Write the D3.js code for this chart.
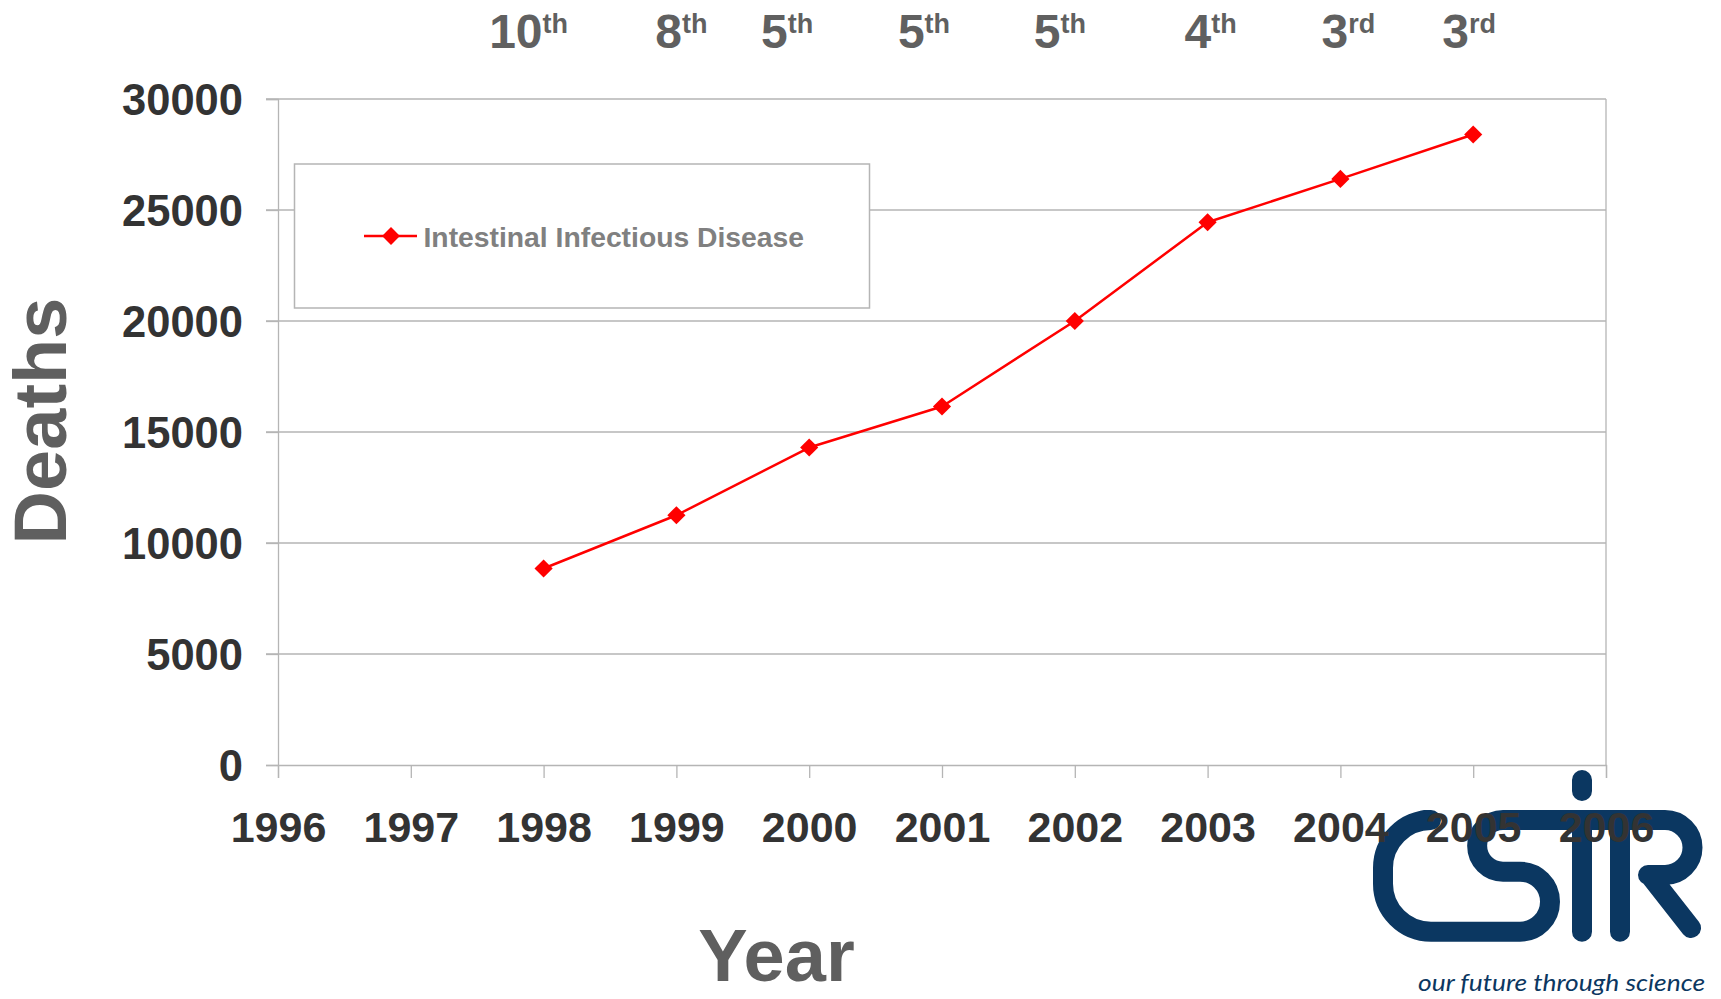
<!DOCTYPE html>
<html>
<head>
<meta charset="utf-8">
<script src="https://cdn.jsdelivr.net/npm/d3@7"></script>
<style>
  html, body { margin: 0; padding: 0; background: #ffffff; }
  svg { display: block; }
</style>
</head>
<body>
<svg id="chart" width="1721" height="999"></svg>
<script>
// Annual deaths from intestinal infectious disease, with the cause's rank per year
const years = [1998, 1999, 2000, 2001, 2002, 2003, 2004, 2005];
const deaths = [8850, 11250, 14300, 16150, 20000, 24450, 26400, 28400];
const rankNumbers = ["10", "8", "5", "5", "5", "4", "3", "3"];
const rankSuffixes = ["th", "th", "th", "th", "th", "th", "rd", "rd"];
const xTickYears = [1996, 1997, 1998, 1999, 2000, 2001, 2002, 2003, 2004, 2005, 2006];
const yTickValues = [0, 5000, 10000, 15000, 20000, 25000, 30000];
const seriesName = "Intestinal Infectious Disease";

// Layout
const W = 1721, H = 999;
const plot = { left: 278, right: 1606, top: 99, bottom: 765 };
const rankNudge = [-15, 5, -22, -18, -15, 3, 8, -4];
const FONT = "'Liberation Sans', Arial, Helvetica, sans-serif";
const GRID = "#b5b5b5";
const RED = "#ff0000";
const NAVY = "#0b3761";

const svg = d3.select("#chart");

const x = d3.scaleLinear().domain([1996, 2006]).range([plot.left, plot.right]);
const y = d3.scaleLinear().domain([0, 30000]).range([plot.bottom, plot.top]);

// Logo (drawn first so the year labels sit on top of it)
const logo = svg.append("g")
  .attr("fill", "none")
  .attr("stroke", NAVY)
  .attr("stroke-width", 20)
  .attr("stroke-linecap", "round")
  .attr("stroke-linejoin", "round");

const p = d3.path();
p.moveTo(1424, 820);
p.arcTo(1383, 820, 1383, 868, 48);
p.arcTo(1383, 931.7, 1431, 931.7, 48);
p.lineTo(1520, 931.7);
p.arc(1520, 901.7, 30, Math.PI / 2, -Math.PI / 2, true);
p.lineTo(1503, 871.7);
p.arc(1503, 845.85, 25.85, Math.PI / 2, 3 * Math.PI / 2, false);
p.lineTo(1665, 820);
p.arc(1665, 847.5, 27.5, -Math.PI / 2, Math.PI / 2, false);
p.lineTo(1648, 875);
p.moveTo(1651, 877);
p.lineTo(1691, 928);
p.moveTo(1582, 820);
p.lineTo(1582, 931.7);
p.moveTo(1620, 820);
p.lineTo(1620, 931.7);
p.moveTo(1582, 780);
p.lineTo(1582, 791);
logo.append("path").attr("d", p.toString());

svg.append("text")
  .attr("x", 1418)
  .attr("y", 991)
  .attr("textLength", 287)
  .attr("lengthAdjust", "spacingAndGlyphs")
  .style("font-family", "Lato, 'Open Sans', sans-serif")
  .style("font-style", "italic")
  .style("font-size", "23px")
  .attr("fill", NAVY)
  .text("our future through science");

// Horizontal gridlines (with the short tick stubs left of the axis)
svg.append("g")
  .selectAll("line")
  .data(yTickValues.filter(v => v > 0))
  .join("line")
  .attr("x1", plot.left - 12)
  .attr("x2", plot.right)
  .attr("y1", d => y(d))
  .attr("y2", d => y(d))
  .attr("stroke", GRID)
  .attr("stroke-width", 1.3);

// Y axis
const yAxis = svg.append("g")
  .attr("transform", `translate(${plot.left},0)`)
  .call(d3.axisLeft(y).tickValues(yTickValues).tickSize(12).tickPadding(23).tickFormat(d3.format("d")));
yAxis.select(".domain").attr("stroke", GRID).attr("stroke-width", 1.3);
yAxis.selectAll(".tick line").attr("stroke", GRID).attr("stroke-width", 1.3);
yAxis.selectAll(".tick text")
  .attr("dy", null)
  .attr("y", 15.5)
  .attr("fill", "#333333")
  .style("font-family", FONT)
  .style("font-weight", "bold")
  .style("font-size", "43.5px");

// X axis
const xAxis = svg.append("g")
  .attr("transform", `translate(0,${plot.bottom})`)
  .call(d3.axisBottom(x).tickValues(xTickYears).tickSize(13).tickPadding(0).tickFormat(d3.format("d")));
xAxis.select(".domain").attr("stroke", GRID).attr("stroke-width", 1.3);
xAxis.selectAll(".tick line").attr("stroke", GRID).attr("stroke-width", 1.3);
xAxis.selectAll(".tick text")
  .attr("dy", null)
  .attr("y", 77)
  .attr("fill", "#333333")
  .style("font-family", FONT)
  .style("font-weight", "bold")
  .style("font-size", "43px");

// Right border of the plot area
svg.append("line")
  .attr("x1", plot.right).attr("x2", plot.right)
  .attr("y1", plot.top).attr("y2", plot.bottom)
  .attr("stroke", GRID).attr("stroke-width", 1.3);

// Legend box
const legend = svg.append("g");
legend.append("rect")
  .attr("x", 294.5).attr("y", 164)
  .attr("width", 575).attr("height", 144)
  .attr("fill", "#ffffff")
  .attr("stroke", GRID)
  .attr("stroke-width", 1.5);
legend.append("line")
  .attr("x1", 364).attr("x2", 417)
  .attr("y1", 236).attr("y2", 236)
  .attr("stroke", RED).attr("stroke-width", 2.5);
legend.append("path")
  .attr("d", d3.symbol(d3.symbolSquare, 160)())
  .attr("transform", "translate(391,236) rotate(45)")
  .attr("fill", RED);
legend.append("text")
  .attr("x", 423.5).attr("y", 246.5)
  .attr("fill", "#808080")
  .style("font-family", FONT)
  .style("font-weight", "bold")
  .style("font-size", "28.3px")
  .text(seriesName);

// Data series
const series = years.map((yr, i) => ({ year: yr, value: deaths[i] }));
svg.append("path")
  .datum(series)
  .attr("fill", "none")
  .attr("stroke", RED)
  .attr("stroke-width", 2.5)
  .attr("stroke-linejoin", "round")
  .attr("d", d3.line().x(d => x(d.year)).y(d => y(d.value)));

svg.append("g")
  .selectAll("path")
  .data(series)
  .join("path")
  .attr("d", d3.symbol(d3.symbolSquare, 165)())
  .attr("transform", d => `translate(${x(d.year)},${y(d.value)}) rotate(45)`)
  .attr("fill", RED);

// Rank of the cause of death above each year
const ranks = svg.append("g")
  .selectAll("text")
  .data(years)
  .join("text")
  .attr("x", (d, i) => x(d) + rankNudge[i])
  .attr("y", 48.3)
  .attr("text-anchor", "middle")
  .attr("fill", "#606060")
  .style("font-family", FONT)
  .style("font-weight", "bold");
ranks.append("tspan")
  .style("font-size", "48px")
  .text((d, i) => rankNumbers[i]);
ranks.append("tspan")
  .attr("dy", -15)
  .style("font-size", "27px")
  .text((d, i) => rankSuffixes[i]);

// Axis titles
svg.append("text")
  .attr("transform", "translate(66,421) rotate(-90)")
  .attr("text-anchor", "middle")
  .attr("fill", "#5f5f5f")
  .style("font-family", FONT)
  .style("font-weight", "bold")
  .style("font-size", "74px")
  .text("Deaths");

svg.append("text")
  .attr("x", 776.5).attr("y", 981)
  .attr("text-anchor", "middle")
  .attr("fill", "#5f5f5f")
  .style("font-family", FONT)
  .style("font-weight", "bold")
  .style("font-size", "74px")
  .text("Year");
</script>
</body>
</html>
